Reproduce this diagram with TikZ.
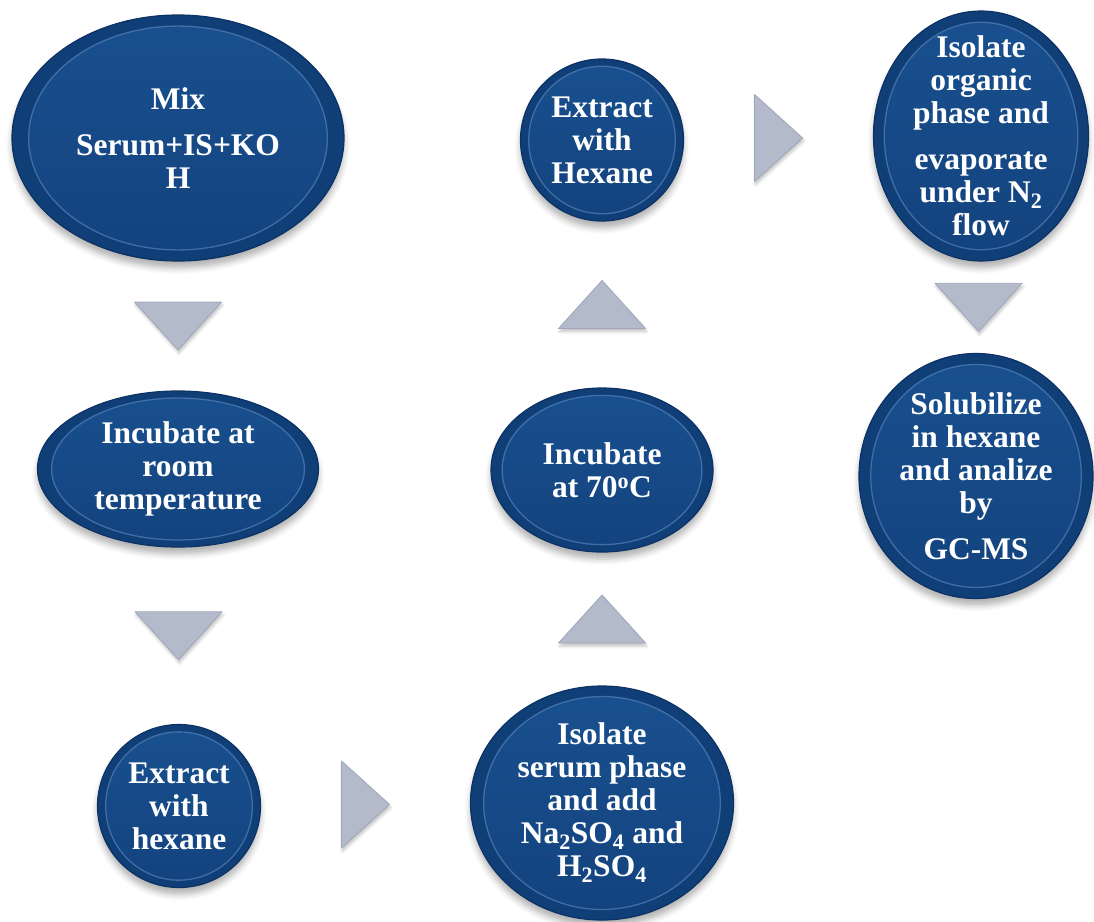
\documentclass[tikz,border=0pt]{standalone}
\usepackage{fontspec}
\setmainfont{Liberation Serif}
\usepackage{xcolor}
\usetikzlibrary{shapes,calc,shadows.blur}

\definecolor{stageblue}{HTML}{154A8C}
\definecolor{stagetop}{HTML}{19508F}
\definecolor{stagering}{HTML}{103E77}
\definecolor{stageedge}{HTML}{0C3263}
\definecolor{stagerim}{HTML}{6892C8}
\definecolor{trigray}{HTML}{B3BACA}
\definecolor{triedge}{HTML}{9EA6B8}

\begin{document}
\begin{tikzpicture}[
    x=1pt, y=-1pt,
    stage/.style={ellipse, top color=stagetop, bottom color=stageblue!90!black, draw=stageedge, line width=1.2pt, inner sep=0pt,
        blur shadow={shadow xshift=0pt, shadow yshift=-7pt, shadow blur radius=6pt, shadow opacity=30},
        path picture={
            \fill[stagering, even odd rule] let \p1=(path picture bounding box.north east), \p2=(path picture bounding box.center) in
                (\p2) ellipse [x radius={\x1-\x2}, y radius={\y1-\y2}]
                (\p2) ellipse [x radius={0.9*(\x1-\x2)}, y radius={0.91*(\y1-\y2)}];
            \draw[stagerim, line width=1.3pt, opacity=0.55] let \p1=(path picture bounding box.north east), \p2=(path picture bounding box.center) in
                (\p2) ellipse [x radius={0.9*(\x1-\x2)}, y radius={0.91*(\y1-\y2)}];
        }},
    steptext/.style={text=white, font=\fontsize{31.5}{33}\selectfont\bfseries, align=center, inner sep=0pt},
    flowtri/.pic={\draw[fill=trigray, draw=triedge, line width=0.8pt, line join=round, blur shadow={shadow xshift=1pt, shadow yshift=-3pt, shadow blur radius=3pt, shadow opacity=25}] (-43.5,-24) -- (43.5,-24) -- (0,24) -- cycle;},
]
    \useasboundingbox (0,0) rectangle (1094,921);

    % Left column
    \node[stage, minimum width=332pt, minimum height=246pt] (mix) at (178,138) {};
    \node[stage, minimum width=281pt, minimum height=156pt] (incroom) at (178,469) {};
    \node[stage, minimum width=163pt, minimum height=163pt] (ext1) at (179,806) {};

    % Middle column
    \node[stage, minimum width=263pt, minimum height=234pt] (iso1) at (602,803) {};
    \node[stage, minimum width=222pt, minimum height=164pt] (inc70) at (602,470) {};
    \node[stage, minimum width=163pt, minimum height=162pt] (ext2) at (602,140) {};

    % Right column
    \node[stage, minimum width=215pt, minimum height=250pt] (isoorg) at (981,136) {};
    \node[stage, minimum width=234pt, minimum height=245pt] (solub) at (976,476) {};

    % Texts
    \node[steptext] (mixtxt) at (mix) {Mix\\[13pt]Serum+IS+KO\\H};
    \node[steptext] (incroomtxt) at (incroom) {Incubate at\\room\\temperature};
    \node[steptext] (ext1txt) at (ext1) {Extract\\with\\hexane};
    \node[steptext] (iso1txt) at (iso1) {Isolate\\serum phase\\and add\\Na\textsubscript{2}SO\textsubscript{4} and\\H\textsubscript{2}SO\textsubscript{4}};
    \node[steptext] (inc70txt) at (inc70) {Incubate\\at 70\textsuperscript{o}C};
    \node[steptext] (ext2txt) at (ext2) {Extract\\with\\Hexane};
    \node[steptext] (isoorgtxt) at (isoorg) {Isolate\\organic\\phase and\\[13pt]evaporate\\under N\textsubscript{2}\\flow};
    \node[steptext] (solubtxt) at (solub) {Solubilize\\in hexane\\and analize\\by\\[13pt]GC-MS};

    % Arrows between steps
    \coordinate (a1) at ($(mix.south)!0.5!(incroom.north)$);
    \coordinate (a2) at ($(incroom.south)!0.5!(ext1.north)$);
    \coordinate (a3) at ($(ext1.east)!0.5!(iso1.west)$);
    \coordinate (a4) at ($(iso1.north)!0.5!(inc70.south)$);
    \coordinate (a5) at ($(inc70.north)!0.5!(ext2.south)$);
    \coordinate (a6) at ($(ext2.east)!0.5!(isoorg.west)$);
    \coordinate (a7) at ($(isoorg.south)!0.5!(solub.north)$);
    \pic at (a1) {flowtri};
    \pic at (a2) {flowtri};
    \pic[rotate=90] at (a3) {flowtri};
    \pic[rotate=180] at (a4) {flowtri};
    \pic[rotate=180] at (a5) {flowtri};
    \pic[rotate=90] at (a6) {flowtri};
    \pic at (a7) {flowtri};
\end{tikzpicture}
\end{document}
